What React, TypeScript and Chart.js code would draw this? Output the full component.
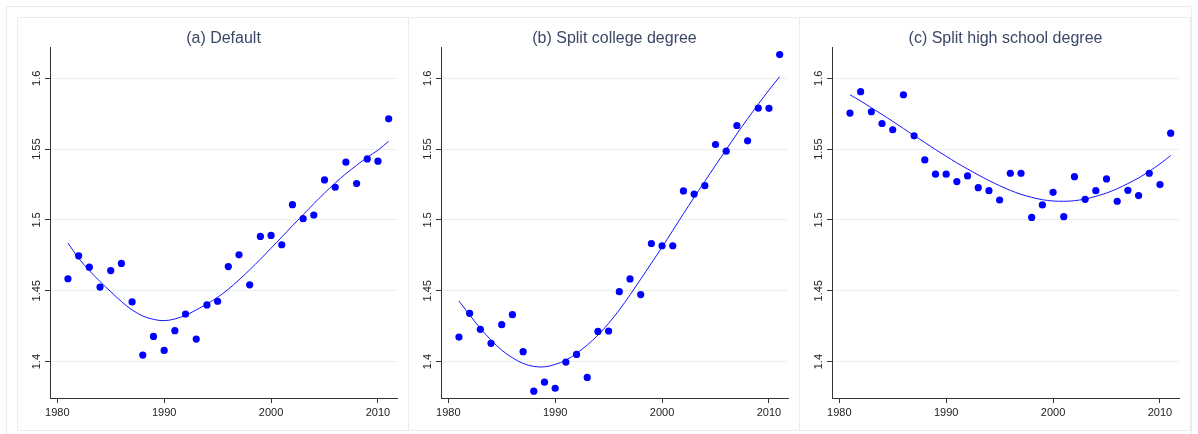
import { useEffect, useRef } from "react";
import { Chart, ChartConfiguration, Plugin, registerables } from "chart.js";
Chart.register(...registerables);

// survey years shared by all three panels
const years = [
  1981, 1982, 1983, 1984, 1985, 1986, 1987, 1988, 1989, 1990, 1991, 1992, 1993, 1994, 1995, 1996,
  1997, 1998, 1999, 2000, 2001, 2002, 2003, 2004, 2005, 2006, 2007, 2008, 2009, 2010, 2011,
];

const xTicks = [1980, 1990, 2000, 2010];
const yTicks = [1.4, 1.45, 1.5, 1.55, 1.6];
const yTickLabels = ["1.4", "1.45", "1.5", "1.55", "1.6"];

const panelTitles = ["(a) Default", "(b) Split college degree", "(c) Split high school degree"];

// (a) default
const defaultPoints = [
  1.4585, 1.4747, 1.4667, 1.4526, 1.4643, 1.4693, 1.4421, 1.4046, 1.4178, 1.4079, 1.4218, 1.4336,
  1.4159, 1.44, 1.4426, 1.4671, 1.4754, 1.4542, 1.4884, 1.4891, 1.4825, 1.5108, 1.5009, 1.5035,
  1.5283, 1.5231, 1.5408, 1.5257, 1.5431, 1.5415, 1.5714,
];
const defaultFit = [
  1.4837, 1.473, 1.4643, 1.4565, 1.4494, 1.4424, 1.4365, 1.4322, 1.4298, 1.4289, 1.4301, 1.4327,
  1.4365, 1.4407, 1.4454, 1.4511, 1.4577, 1.4648, 1.4723, 1.4801, 1.4879, 1.4959, 1.5037, 1.5115,
  1.519, 1.5261, 1.5327, 1.5386, 1.5443, 1.5493, 1.5556,
];

// (b) split college degree
const collegePoints = [
  1.4173, 1.4341, 1.4228, 1.4129, 1.4261, 1.4331, 1.407, 1.3791, 1.3855, 1.3812, 1.3997, 1.4051,
  1.3888, 1.4213, 1.4216, 1.4494, 1.4584, 1.4473, 1.4834, 1.4818, 1.4818, 1.5205, 1.5183, 1.5242,
  1.5533, 1.5486, 1.5667, 1.5559, 1.579, 1.5788, 1.6168,
];
const collegeFit = [
  1.4428, 1.4329, 1.4235, 1.4152, 1.4081, 1.4027, 1.3987, 1.3966, 1.3963, 1.398, 1.401, 1.4058,
  1.4117, 1.4187, 1.427, 1.4365, 1.4471, 1.4582, 1.4695, 1.4808, 1.4926, 1.5044, 1.516, 1.5273,
  1.5386, 1.5497, 1.5608, 1.5714, 1.5818, 1.5917, 1.6012,
];

// (c) split high school degree
const highSchoolPoints = [
  1.5755, 1.5906, 1.5764, 1.5681, 1.5637, 1.5884, 1.5594, 1.5424, 1.5323, 1.5323, 1.5271, 1.5311,
  1.5228, 1.5207, 1.5141, 1.533, 1.533, 1.5018, 1.5106, 1.5195, 1.5023, 1.5306, 1.5146, 1.5207,
  1.529, 1.5132, 1.5209, 1.5172, 1.533, 1.525, 1.5613,
];
const highSchoolFit = [
  1.5884, 1.584, 1.5792, 1.5745, 1.5696, 1.5646, 1.5596, 1.5547, 1.5497, 1.545, 1.5403, 1.536,
  1.5318, 1.5278, 1.5242, 1.5209, 1.5181, 1.516, 1.5143, 1.5134, 1.5132, 1.5136, 1.5148, 1.5167,
  1.519, 1.5221, 1.5257, 1.5297, 1.5344, 1.5396, 1.5455,
];

const FONT = '"Liberation Sans", Arial, sans-serif';
const FRAME = "#e6eeee";

// vertical y tick labels, reading bottom to top
const rotatedYLabels: Plugin<"scatter"> = {
  id: "rotatedYLabels",
  afterDraw(chart) {
    const { ctx, chartArea } = chart;
    const y = chart.scales.y;
    ctx.save();
    ctx.font = `11px ${FONT}`;
    ctx.fillStyle = "#222";
    ctx.textAlign = "center";
    ctx.textBaseline = "middle";
    yTicks.forEach((v, i) => {
      ctx.save();
      ctx.translate(chartArea.left - 13, y.getPixelForValue(v));
      ctx.rotate(-Math.PI / 2);
      ctx.fillText(yTickLabels[i], 0, 0);
      ctx.restore();
    });
    ctx.restore();
  },
};

type PanelProps = {
  title: string;
  points: number[];
  fit: number[];
  left: number;
};

function Panel({ title, points, fit, left }: PanelProps) {
  const canvasRef = useRef<HTMLCanvasElement | null>(null);
  const chartRef = useRef<Chart<"scatter"> | null>(null);

  useEffect(() => {
    const config: ChartConfiguration<"scatter"> = {
      type: "scatter",
      data: {
        datasets: [
          {
            label: "fit",
            data: years.map((yr, i) => ({ x: yr, y: fit[i] })),
            showLine: true,
            borderColor: "#1414ff",
            borderWidth: 1,
            pointRadius: 0,
            tension: 0.35,
            order: 2,
          },
          {
            label: "points",
            data: years.map((yr, i) => ({ x: yr, y: points[i] })),
            backgroundColor: "#0000ff",
            borderWidth: 0,
            pointRadius: 3.6,
            order: 1,
          },
        ],
      },
      options: {
        animation: false,
        responsive: true,
        maintainAspectRatio: false,
        layout: { padding: { right: 11, top: 0, left: 0, bottom: 0 } },
        plugins: {
          legend: { display: false },
          tooltip: { enabled: false },
          title: {
            display: true,
            text: title,
            fullSize: false,
            color: "#3a4766",
            font: { family: FONT, size: 16, weight: "normal", lineHeight: 1.1 },
            padding: { top: 12, bottom: 0 },
          },
        },
        scales: {
          x: {
            type: "linear",
            min: 1979.32,
            max: 2011.78,
            afterBuildTicks: (scale) => {
              scale.ticks = xTicks.map((v) => ({ value: v }));
            },
            afterFit: (scale) => {
              scale.height = 32;
            },
            border: { display: true, color: "#333", width: 1 },
            grid: {
              drawOnChartArea: false,
              drawTicks: true,
              tickLength: 5,
              tickColor: "#333",
            },
            ticks: {
              color: "#222",
              font: { family: FONT, size: 11 },
              padding: 3,
              maxRotation: 0,
              callback: (v) => String(v),
            },
          },
          y: {
            type: "linear",
            min: 1.3743,
            max: 1.6217,
            afterBuildTicks: (scale) => {
              scale.ticks = yTicks.map((v) => ({ value: v }));
            },
            afterFit: (scale) => {
              scale.width = 32;
            },
            border: { display: true, color: "#333", width: 1 },
            grid: {
              color: "#e8f0f0",
              drawTicks: true,
              tickLength: 5,
              tickColor: "#333",
            },
            ticks: { display: false },
          },
        },
      },
      plugins: [rotatedYLabels],
    };

    if (canvasRef.current) {
      chartRef.current = new Chart(canvasRef.current, config);
    }
    return () => {
      chartRef.current?.destroy();
    };
  }, [title, points, fit]);

  return (
    <div
      style={{
        position: "absolute",
        left,
        top: 17,
        width: 390,
        height: 412,
        border: `1px solid ${FRAME}`,
        background: "white",
      }}
    >
      <canvas ref={canvasRef} />
    </div>
  );
}

export default function App() {
  const series = [
    { points: defaultPoints, fit: defaultFit },
    { points: collegePoints, fit: collegeFit },
    { points: highSchoolPoints, fit: highSchoolFit },
  ];
  return (
    <div
      style={{
        position: "fixed",
        left: 0,
        top: 0,
        width: 1198,
        height: 434,
        background: "white",
        overflow: "hidden",
      }}
    >
      <div
        style={{
          position: "absolute",
          left: 6,
          top: 6,
          width: 1184,
          height: 440,
          border: `1px solid ${FRAME}`,
        }}
      />
      {series.map((s, i) => (
        <Panel key={i} title={panelTitles[i]} points={s.points} fit={s.fit} left={17 + 391 * i} />
      ))}
    </div>
  );
}
